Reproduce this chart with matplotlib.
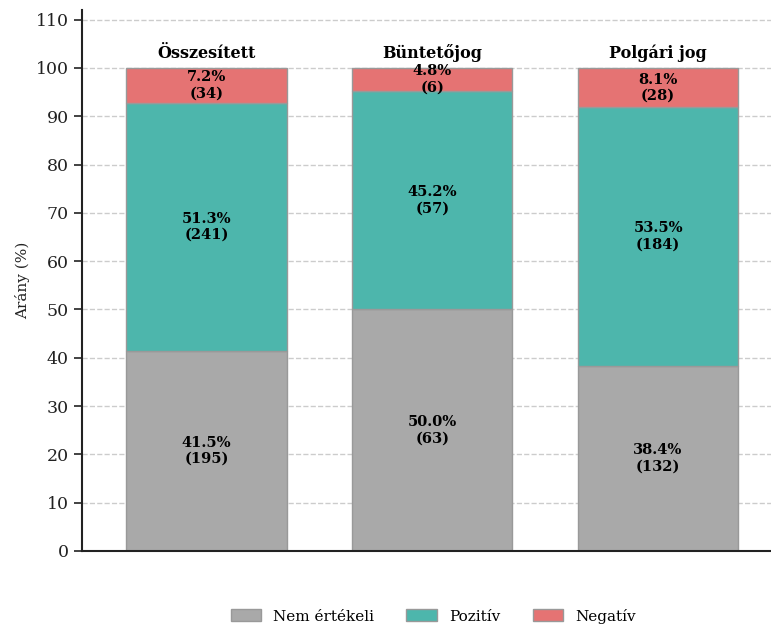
import numpy as np
from matplotlib import pyplot as plt

plt.rcParams['font.family'] = 'DejaVu Serif'

categories = ['Összesített', 'Büntetőjog', 'Polgári jog']
nem_ertekeli = [195, 63, 132]
pozitiv = [241, 57, 184]
negativ = [34, 6, 28]
series_names = ['Nem értékeli', 'Pozitív', 'Negatív']
colors = ['#a9a9a9', '#4db6ac', '#e57373']

counts = np.array([nem_ertekeli, pozitiv, negativ], dtype=float)
totals = counts.sum(axis=0)
pcts = counts / totals * 100

fig = plt.figure(figsize=(7.71, 6.26), dpi=100)
ax = fig.add_axes([0.106, 0.12, 0.894, 0.864])

x = np.arange(len(categories))
bottom = np.zeros(len(categories))
for i, name in enumerate(series_names):
    ax.bar(x, pcts[i], 0.71, bottom=bottom, color=colors[i], edgecolor='#999999',
           linewidth=1, label=name, zorder=2)
    for j in range(len(categories)):
        ax.text(x[j], bottom[j] + pcts[i][j] / 2, '%.1f%%\n(%d)' % (pcts[i][j], counts[i][j]),
                ha='center', va='center', fontsize=10.5, fontweight='bold', linespacing=1.2)
    bottom += pcts[i]

for j, cat in enumerate(categories):
    ax.text(x[j], 101.2, cat, ha='center', va='bottom', fontsize=11.5, fontweight='bold')

ax.set_xlim(-0.553, 2.5)
ax.set_ylim(0, 112)
ax.set_yticks(np.arange(0, 111, 10))
ax.set_xticks([])
ax.tick_params(axis='y', labelsize=12.5, length=6, width=1.2, colors='#222222')
ax.set_ylabel('Arány (%)', fontsize=11, color='#222222')
ax.yaxis.grid(True, linestyle='--', color='#cccccc', linewidth=1, zorder=0)
ax.set_axisbelow(True)
for s in ['top', 'right']:
    ax.spines[s].set_visible(False)
for s in ['left', 'bottom']:
    ax.spines[s].set_linewidth(1.5)
    ax.spines[s].set_color('#222222')

fig.legend(loc='lower center', bbox_to_anchor=(0.562, -0.018), ncol=3, frameon=False,
           fontsize=11, handlelength=2.0, handleheight=0.8, columnspacing=2.1)

fig.savefig('out.png', dpi=100)
